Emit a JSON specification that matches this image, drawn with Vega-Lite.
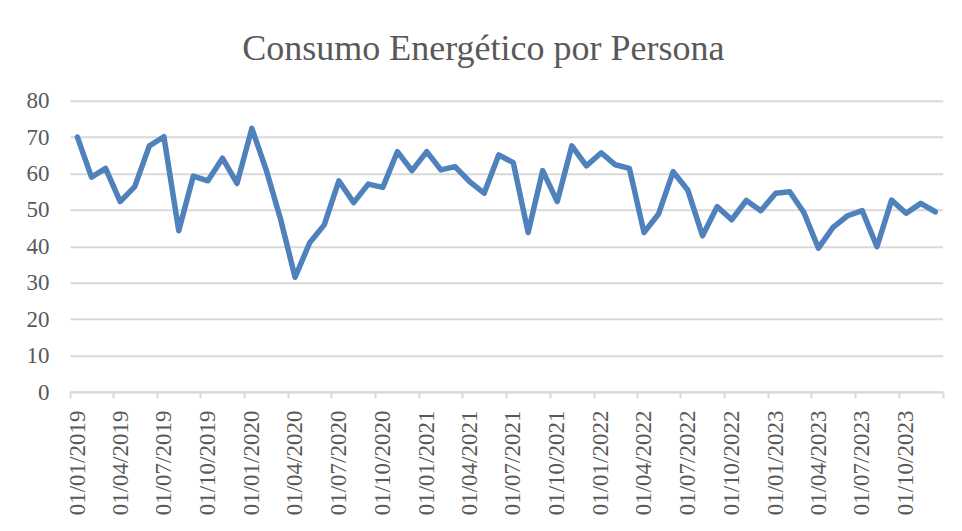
{
  "$schema": "https://vega.github.io/schema/vega-lite/v6.json",
  "autosize": "none",
  "width": 872.7,
  "height": 291.3,
  "padding": {"left": 70, "top": 100.7, "right": 19.3, "bottom": 139},
  "background": "white",
  "title": {
    "text": "Consumo Energético por Persona",
    "font": "Liberation Serif",
    "fontSize": 36,
    "fontWeight": "normal",
    "color": "#595959",
    "baseline": "alphabetic",
    "offset": -6,
    "dx": -23,
    "anchor": "middle"
  },
  "config": {"view": {"stroke": null}},
  "data": {
    "values": [
      {"fecha": "2019-01-01", "consumo": 70.0},
      {"fecha": "2019-02-01", "consumo": 59.0},
      {"fecha": "2019-03-01", "consumo": 61.4},
      {"fecha": "2019-04-01", "consumo": 52.3},
      {"fecha": "2019-05-01", "consumo": 56.4},
      {"fecha": "2019-06-01", "consumo": 67.6},
      {"fecha": "2019-07-01", "consumo": 70.1},
      {"fecha": "2019-08-01", "consumo": 44.3},
      {"fecha": "2019-09-01", "consumo": 59.3},
      {"fecha": "2019-10-01", "consumo": 58.0},
      {"fecha": "2019-11-01", "consumo": 64.2},
      {"fecha": "2019-12-01", "consumo": 57.3},
      {"fecha": "2020-01-01", "consumo": 72.4},
      {"fecha": "2020-02-01", "consumo": 61.0},
      {"fecha": "2020-03-01", "consumo": 47.5},
      {"fecha": "2020-04-01", "consumo": 31.5},
      {"fecha": "2020-05-01", "consumo": 41.0},
      {"fecha": "2020-06-01", "consumo": 45.9},
      {"fecha": "2020-07-01", "consumo": 58.0},
      {"fecha": "2020-08-01", "consumo": 52.0},
      {"fecha": "2020-09-01", "consumo": 57.1},
      {"fecha": "2020-10-01", "consumo": 56.2},
      {"fecha": "2020-11-01", "consumo": 66.0},
      {"fecha": "2020-12-01", "consumo": 60.8},
      {"fecha": "2021-01-01", "consumo": 66.0},
      {"fecha": "2021-02-01", "consumo": 61.0},
      {"fecha": "2021-03-01", "consumo": 61.9},
      {"fecha": "2021-04-01", "consumo": 57.8},
      {"fecha": "2021-05-01", "consumo": 54.6},
      {"fecha": "2021-06-01", "consumo": 65.1},
      {"fecha": "2021-07-01", "consumo": 63.0},
      {"fecha": "2021-08-01", "consumo": 43.8},
      {"fecha": "2021-09-01", "consumo": 60.8},
      {"fecha": "2021-10-01", "consumo": 52.3},
      {"fecha": "2021-11-01", "consumo": 67.6},
      {"fecha": "2021-12-01", "consumo": 62.1},
      {"fecha": "2022-01-01", "consumo": 65.7},
      {"fecha": "2022-02-01", "consumo": 62.4},
      {"fecha": "2022-03-01", "consumo": 61.4},
      {"fecha": "2022-04-01", "consumo": 43.8},
      {"fecha": "2022-05-01", "consumo": 48.9},
      {"fecha": "2022-06-01", "consumo": 60.5},
      {"fecha": "2022-07-01", "consumo": 55.5},
      {"fecha": "2022-08-01", "consumo": 42.9},
      {"fecha": "2022-09-01", "consumo": 50.9},
      {"fecha": "2022-10-01", "consumo": 47.3},
      {"fecha": "2022-11-01", "consumo": 52.6},
      {"fecha": "2022-12-01", "consumo": 49.8},
      {"fecha": "2023-01-01", "consumo": 54.6},
      {"fecha": "2023-02-01", "consumo": 55.0},
      {"fecha": "2023-03-01", "consumo": 49.3},
      {"fecha": "2023-04-01", "consumo": 39.5},
      {"fecha": "2023-05-01", "consumo": 45.2},
      {"fecha": "2023-06-01", "consumo": 48.4},
      {"fecha": "2023-07-01", "consumo": 49.8},
      {"fecha": "2023-08-01", "consumo": 39.9},
      {"fecha": "2023-09-01", "consumo": 52.7},
      {"fecha": "2023-10-01", "consumo": 49.1},
      {"fecha": "2023-11-01", "consumo": 51.8},
      {"fecha": "2023-12-01", "consumo": 49.5}
    ]
  },
  "mark": {"type": "line", "color": "#4f81bd", "strokeWidth": 5.5, "strokeJoin": "round", "strokeCap": "round"},
  "encoding": {
    "x": {
      "field": "fecha",
      "timeUnit": "utcyearmonth",
      "type": "temporal",
      "bandPosition": 0.5,
      "title": null,
      "scale": {
        "domain": [
          {"year": 2019, "month": 1, "date": 1, "utc": true},
          {"year": 2024, "month": 1, "date": 1, "utc": true}
        ],
        "nice": false
      },
      "axis": {
        "values": [
          {"year": 2019, "month": 1, "date": 1, "utc": true},
          {"year": 2019, "month": 4, "date": 1, "utc": true},
          {"year": 2019, "month": 7, "date": 1, "utc": true},
          {"year": 2019, "month": 10, "date": 1, "utc": true},
          {"year": 2020, "month": 1, "date": 1, "utc": true},
          {"year": 2020, "month": 4, "date": 1, "utc": true},
          {"year": 2020, "month": 7, "date": 1, "utc": true},
          {"year": 2020, "month": 10, "date": 1, "utc": true},
          {"year": 2021, "month": 1, "date": 1, "utc": true},
          {"year": 2021, "month": 4, "date": 1, "utc": true},
          {"year": 2021, "month": 7, "date": 1, "utc": true},
          {"year": 2021, "month": 10, "date": 1, "utc": true},
          {"year": 2022, "month": 1, "date": 1, "utc": true},
          {"year": 2022, "month": 4, "date": 1, "utc": true},
          {"year": 2022, "month": 7, "date": 1, "utc": true},
          {"year": 2022, "month": 10, "date": 1, "utc": true},
          {"year": 2023, "month": 1, "date": 1, "utc": true},
          {"year": 2023, "month": 4, "date": 1, "utc": true},
          {"year": 2023, "month": 7, "date": 1, "utc": true},
          {"year": 2023, "month": 10, "date": 1, "utc": true},
          {"year": 2024, "month": 1, "date": 1, "utc": true}
        ],
        "labelExpr": "utcyear(datum.value) >= 2024 ? '' : utcFormat(datum.value, '%d/%m/%Y')",
        "labelAngle": -90,
        "labelAlign": "right",
        "labelBaseline": "middle",
        "labelOffset": 7,
        "labelPadding": 12,
        "labelFont": "Liberation Serif",
        "labelFontSize": 23,
        "labelColor": "#595959",
        "labelOverlap": false,
        "labelFlush": false,
        "labelBound": false,
        "grid": false,
        "domainColor": "#d9d9d9",
        "domainWidth": 2,
        "tickColor": "#d9d9d9",
        "tickWidth": 2,
        "tickSize": 6
      }
    },
    "y": {
      "field": "consumo",
      "type": "quantitative",
      "title": null,
      "scale": {"domain": [0, 80], "nice": false},
      "axis": {
        "values": [0, 10, 20, 30, 40, 50, 60, 70, 80],
        "domain": false,
        "ticks": false,
        "grid": true,
        "gridColor": "#d9d9d9",
        "gridWidth": 2,
        "labelPadding": 21,
        "labelFont": "Liberation Serif",
        "labelFontSize": 23,
        "labelColor": "#595959",
        "labelFlush": false
      }
    }
  }
}
